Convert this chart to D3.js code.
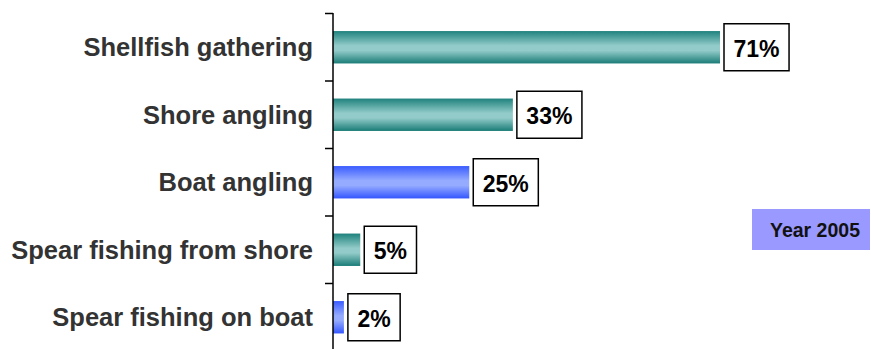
<!DOCTYPE html>
<html lang="en">
<head>
<meta charset="utf-8">
<title>Sea fishing activities</title>
<script src="https://d3js.org/d3.v7.min.js"></script>
<style>
  body { margin: 0; background: #fff; }
  text { font-family: "Liberation Sans", Arial, sans-serif; font-weight: bold; }
</style>
</head>
<body>
<script>
// data
var categories = ["Shellfish gathering", "Shore angling", "Boat angling", "Spear fishing from shore", "Spear fishing on boat"];
var values = [71, 33, 25, 5, 2];
var groups = ["shore", "shore", "boat", "shore", "boat"];
var legendLabel = "Year 2005";

var w = 871, h = 349;
var axisX = 333;

var svg = d3.select("body").append("svg")
  .attr("width", w)
  .attr("height", h);

// gradients for the bars
var defs = svg.append("defs");
function grad(id, edge, mid, edge2) {
  var g = defs.append("linearGradient").attr("id", id)
    .attr("x1", 0).attr("y1", 0).attr("x2", 0).attr("y2", 1);
  g.append("stop").attr("offset", "0%").attr("stop-color", edge);
  g.append("stop").attr("offset", "45%").attr("stop-color", mid);
  g.append("stop").attr("offset", "60%").attr("stop-color", mid);
  g.append("stop").attr("offset", "100%").attr("stop-color", edge2);
}
grad("gShore", "#1f827d", "#92cbc9", "#1a7c77");
grad("gBoat", "#3a5cff", "#95abff", "#3356ff");
var fills = { shore: "url(#gShore)", boat: "url(#gBoat)" };

var x = d3.scaleLinear().domain([0, 71]).range([axisX, 720]);
var y = d3.scaleBand().domain(categories).range([13.5, 351])
  .paddingInner(0.52).paddingOuter(0.26);

var half = y.step() * y.paddingInner() / 2;

// bars
svg.selectAll("rect.bar")
  .data(values)
  .enter().append("rect")
  .attr("class", "bar")
  .attr("x", axisX)
  .attr("y", function(d, i) { return y(categories[i]); })
  .attr("width", function(d) { return x(d) - axisX; })
  .attr("height", y.bandwidth())
  .attr("fill", function(d, i) { return fills[groups[i]]; });

// axis line and ticks at category boundaries
svg.append("line")
  .attr("x1", axisX).attr("x2", axisX)
  .attr("y1", 13).attr("y2", h)
  .attr("stroke", "#000").attr("stroke-width", 1.5);

svg.selectAll("line.tick")
  .data(categories)
  .enter().append("line")
  .attr("class", "tick")
  .attr("x1", axisX - 8).attr("x2", axisX)
  .attr("y1", function(d) { return y(d) - half; })
  .attr("y2", function(d) { return y(d) - half; })
  .attr("stroke", "#000").attr("stroke-width", 1.5);

// category labels
svg.selectAll("text.cat")
  .data(categories)
  .enter().append("text")
  .attr("class", "cat")
  .attr("x", 313)
  .attr("y", function(d) { return y(d) + y.bandwidth() / 2; })
  .attr("dy", "0.36em")
  .attr("text-anchor", "end")
  .attr("font-size", "25.5px")
  .attr("fill", "#333")
  .text(function(d) { return d; });

// value labels in boxes
var lab = svg.selectAll("g.val")
  .data(values)
  .enter().append("g")
  .attr("class", "val");

lab.append("rect")
  .attr("fill", "#fff")
  .attr("stroke", "#000")
  .attr("stroke-width", 1.5);

lab.append("text")
  .attr("font-size", "23px")
  .attr("fill", "#000")
  .attr("dy", "0.36em")
  .text(function(d) { return d + "%"; });

lab.each(function(d, i) {
  var g = d3.select(this);
  var t = g.select("text");
  var tw = t.node().getComputedTextLength();
  var bx = x(d) + 4;
  var cy = y(categories[i]) + y.bandwidth() / 2;
  g.select("rect")
    .attr("x", bx).attr("y", cy - 23.5)
    .attr("width", tw + 19).attr("height", 47);
  t.attr("x", bx + 9.5).attr("y", cy + 1);
});

// legend box
svg.append("rect")
  .attr("x", 752).attr("y", 209)
  .attr("width", 118).attr("height", 41)
  .attr("fill", "#9999ff");

svg.append("text")
  .attr("x", 815).attr("y", 230)
  .attr("dy", "0.36em")
  .attr("text-anchor", "middle")
  .attr("font-size", "19.5px")
  .attr("fill", "#111")
  .text(legendLabel);
</script>
</body>
</html>
